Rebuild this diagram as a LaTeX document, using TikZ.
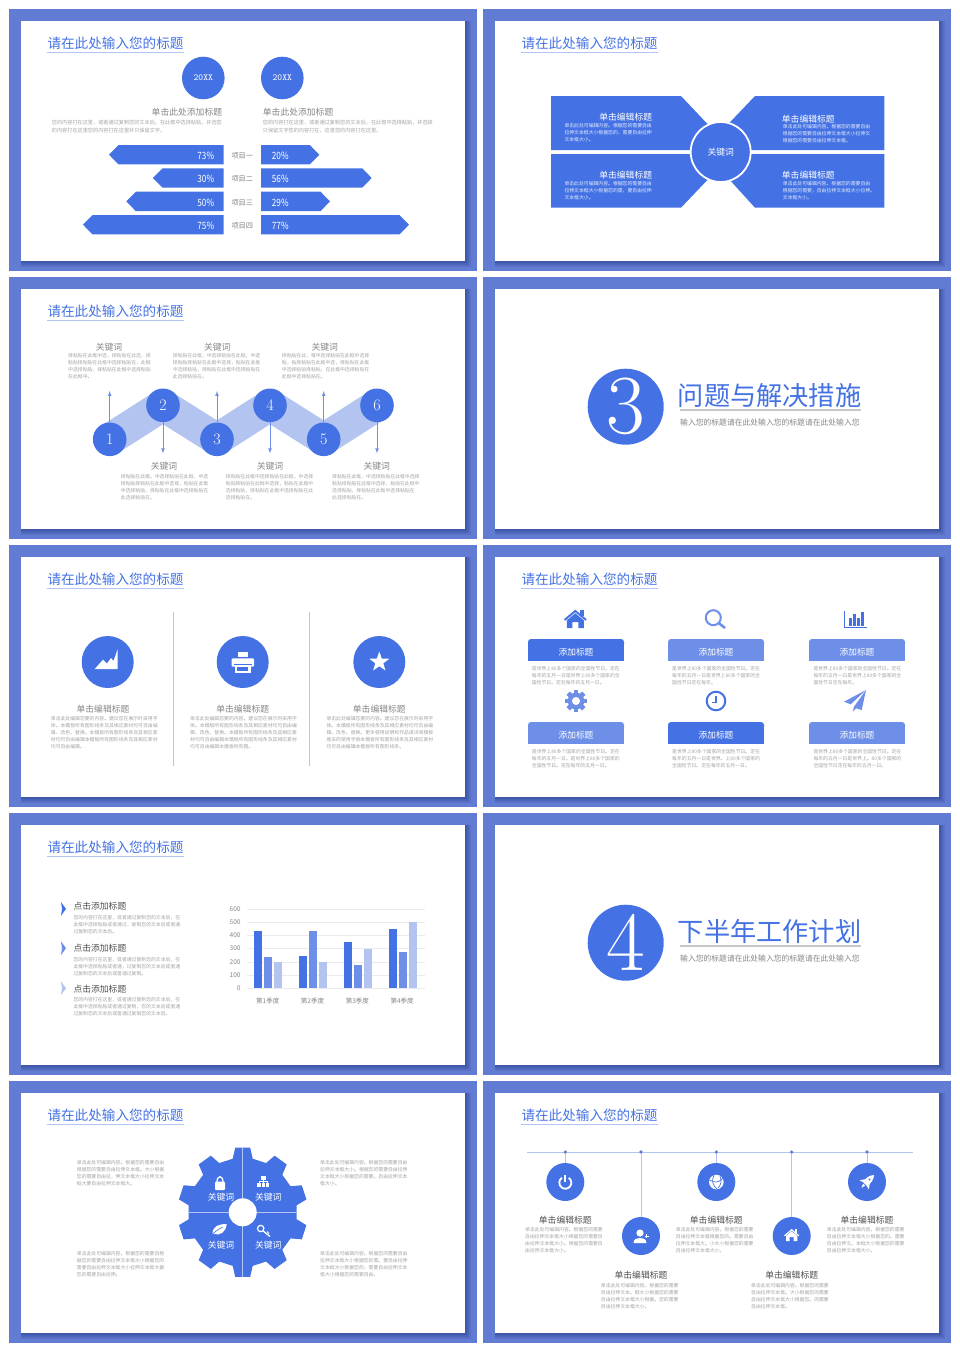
\documentclass[tikz,border=0pt]{standalone}
\usepackage{fontspec}
\usepackage{graphicx}
\usetikzlibrary{positioning}
\usetikzlibrary{arrows}
\usetikzlibrary{shapes.geometric}
\newfontfamily\cjk{Noto Sans CJK SC}

\definecolor{mainblue}{RGB}{68,114,228}
\definecolor{midblue}{RGB}{109,143,232}
\definecolor{lightblue}{RGB}{179,196,241}
\definecolor{frameblue}{RGB}{98,124,212}
\definecolor{shadeblue}{RGB}{50,70,150}
\definecolor{txtgray}{RGB}{165,165,165}
\definecolor{headgray}{RGB}{135,135,135}
\definecolor{darkgray}{RGB}{80,80,80}

\tikzset{
  slidetitle/.style={font=\cjk\fontsize{13.6}{14}\selectfont, text=mainblue, inner sep=0pt, anchor=west, minimum height=18pt},
  titlerule/.style={lightblue, line width=0.8pt},
  bodytxt/.style={font=\cjk\fontsize{4.85}{7}\selectfont, text=txtgray, inner sep=0pt, align=left, anchor=north west, yshift=2.4pt},
  whitetxt/.style={bodytxt, text=white!85!mainblue},
  headtxt/.style={font=\cjk\fontsize{8.8}{10}\selectfont, text=headgray, inner sep=0pt},
  whitehead/.style={headtxt, text=white},
  disc/.style={circle, fill=mainblue, inner sep=0pt, text=white},
  stemarrow/.style={-latex, midblue, line width=0.7pt},
  tabtxt/.style={font=\cjk\fontsize{8.7}{10}\selectfont, text=white, inner sep=0pt},
  pcttxt/.style={font=\cjk\fontsize{10}{11}\selectfont, text=white, inner sep=0pt},
  sectitle/.style={font=\cjk\fontsize{26.2}{28}\selectfont, text=mainblue, inner sep=0pt},
  secsub/.style={font=\cjk\fontsize{7.8}{9}\selectfont, text=headgray, inner sep=0pt},
  secrule/.style={black!22, line width=1.2pt},
  axistxt/.style={font=\cjk\fontsize{6.5}{8}\selectfont, text=headgray, inner sep=0pt},
}

% frame of one slide
\newcommand{\slideframe}[2]{
  \begin{scope}[shift={(#1,#2)}]
    \fill[frameblue] (0,0) rectangle (468,262);
    \foreach \s/\o in {6/.2,4/.3,2/.4} {
      \fill[shadeblue, opacity=\o] (12,11.5) rectangle (456+\s,252+\s);
    }
    \fill[white] (12,11.5) rectangle (456,252);
  \end{scope}
}

% title of one slide
\newcommand{\slidehead}[3]{
  \node[slidetitle] (title#1) at (#2+38.3,#3+34) {请在此处输入您的标题};
  \draw[titlerule] (title#1.south west) -- (title#1.south east);
}

% little house, centred on #1,#2, scaled by #3
\newcommand{\homeicon}[4]{
  \begin{scope}[shift={(#1,#2)}, scale=#3]
    \fill[#4] (5,-10) rectangle (8.5,-4);
    \draw[#4, line width=#3*1.9pt] (-10.8,0.5) -- (0,-8.5) -- (10.8,0.5);
    \fill[#4] (0,-6.2) -- (8.5,0.8) -- (8.5,8.5) -- (3,8.5) -- (3,2.5) -- (-3,2.5) -- (-3,8.5) -- (-8.5,8.5) -- (-8.5,0.8) -- cycle;
  \end{scope}
}

\begin{document}
\begin{tikzpicture}[x=1pt, y=-1pt]
  \useasboundingbox (0,0) rectangle (960,1352);
  \fill[white] (0,0) rectangle (960,1352);

  % Frames
  \foreach \xo/\yo in {9/9, 483/9, 9/277, 483/277, 9/545, 483/545, 9/813, 483/813, 9/1081, 483/1081} {
    \slideframe{\xo}{\yo}
  }
  \foreach \nm/\xo/\yo in {a/9/9, b/483/9, c/9/277, e/9/545, f/483/545, g/9/813, i/9/1081, j/483/1081} {
    \slidehead{\nm}{\xo}{\yo}
  }

  % Slide a: two years and mirrored bars
  \node[disc, minimum size=42.6pt, font=\ttfamily\fontsize{9.2}{10}\selectfont] (yeara) at (203.3,78) {20XX};
  \node[disc, minimum size=42.6pt, font=\ttfamily\fontsize{9.2}{10}\selectfont] (yearb) at (282.3,78) {20XX};
  \node[headtxt, anchor=east] (ahead1) at (222.3,111.7) {单击此处添加标题};
  \node[headtxt, anchor=west] (ahead2) at (262.7,111.7) {单击此处添加标题};
  \node[bodytxt, font=\cjk\fontsize{5.15}{8.7}\selectfont] (abody1) at (51.7,122) {您的内容打在这里，或者通过复制您的文本后，在此框中选择粘贴，并选您\\的内容打在这里您的内容打在这里并只保留文字。};
  \node[bodytxt, font=\cjk\fontsize{5.15}{8.7}\selectfont] (abody2) at (262.7,122) {您的内容打在这里，或者通过复制您的文本后，在此框中选择粘贴，并选择\\只保留文字您的内容打在，这里您的内容打在这里。};
  \foreach \yy/\tipl/\tipr/\pctl/\pctr/\lab [count=\i] in {145/109/319.3/73/20/项目一, 168.3/153/371.7/30/56/项目二, 191.7/126.3/330/50/29/项目三, 215/83/409/75/77/项目四} {
    \fill[mainblue] (223.7,\yy) -- (\tipl+9.5,\yy) -- (\tipl,\yy+9.7) -- (\tipl+9.5,\yy+19.4) -- (223.7,\yy+19.4) -- cycle;
    \fill[mainblue] (261,\yy) -- (\tipr-9.5,\yy) -- (\tipr,\yy+9.7) -- (\tipr-9.5,\yy+19.4) -- (261,\yy+19.4) -- cycle;
    \node[pcttxt, anchor=east] (pctl\i) at (214.3,\yy+11) {\scalebox{.82}[1]{\pctl\%}};
    \node[pcttxt, anchor=west] (pctr\i) at (271.7,\yy+11) {\scalebox{.82}[1]{\pctr\%}};
    \node[font=\cjk\fontsize{7.2}{9}\selectfont, text=headgray, inner sep=0pt] (item\i) at (242.3,\yy+11) {\lab};
  }

  % Slide b: four blocks round one keyword
  \fill[mainblue] (551,96) -- (681,96) -- (720.7,138) -- (720.7,150) -- (551,150) -- cycle;
  \fill[mainblue] (884.3,96) -- (755,96) -- (720.7,132) -- (720.7,150) -- (884.3,150) -- cycle;
  \fill[mainblue] (551,207.7) -- (681,207.7) -- (720.7,166) -- (720.7,154) -- (551,154) -- cycle;
  \fill[mainblue] (884.3,207.7) -- (755,207.7) -- (720.7,170) -- (720.7,154) -- (884.3,154) -- cycle;
  \node[disc, draw=white, line width=1.8pt, minimum size=60pt, font=\cjk\fontsize{8.8}{10}\selectfont] (hub) at (720.7,152) {关键词};
  \node[whitehead, anchor=east] (bhead1) at (652.3,117.3) {单击编辑标题};
  \node[whitetxt] (bbody1) at (564.3,125.7) {单击此处可编辑内容。根据您的需要自由\\拉伸文本框大小根据您的，需要自由拉伸\\文本框大小。};
  \node[whitehead, anchor=west] (bhead2) at (781.7,118.7) {单击编辑标题};
  \node[whitetxt] (bbody2) at (782.7,127) {单击此处可编辑内容。根据您的需要自由\\根据您的需要自由拉伸文本框大小拉伸文\\根据您的需要自由拉伸文本框。};
  \node[whitehead, anchor=east] (bhead3) at (652.3,175) {单击编辑标题};
  \node[whitetxt] (bbody3) at (564.3,183.3) {单击此处可编辑内容。根据您的需要自由\\拉伸文本框大小根据您的需，要自由拉伸\\文本框大小。};
  \node[whitehead, anchor=west] (bhead4) at (781.7,175) {单击编辑标题};
  \node[whitetxt] (bbody4) at (782.7,183.3) {单击此处可编辑内容。根据您的需要自由\\根据您的需要，自由拉伸文本框大小拉伸。\\文本框大小。};

  % Slide c: zigzag of six steps
  \coordinate (c1) at (109.7,439.3);
  \coordinate (c2) at (163,405.3);
  \coordinate (c3) at (217,439.3);
  \coordinate (c4) at (270,405.3);
  \coordinate (c5) at (323.7,439.3);
  \coordinate (c6) at (377,405.3);
  \draw[lightblue, line width=32pt, line join=round] (c1) -- (c2) -- (c3) -- (c4) -- (c5) -- (c6);
  \foreach \n in {1,...,6} {
    \node[disc, minimum size=33.6pt, font=\fontsize{16}{18}\selectfont] (st\n) at (c\n) {\n};
  }
  \coordinate (up1) at (109.7,391);
  \coordinate (up3) at (217,391);
  \coordinate (up5) at (323.7,391);
  \coordinate (dn2) at (163,453.3);
  \coordinate (dn4) at (270,453.3);
  \coordinate (dn6) at (377,453.3);
  \draw[stemarrow] (st1) -- (up1);
  \draw[stemarrow] (st3) -- (up3);
  \draw[stemarrow] (st5) -- (up5);
  \draw[stemarrow] (st2) -- (dn2);
  \draw[stemarrow] (st4) -- (dn4);
  \draw[stemarrow] (st6) -- (dn6);
  \node[headtxt] (chead1) at (109,347) {关键词};
  \node[headtxt] (chead2) at (217.3,347) {关键词};
  \node[headtxt] (chead3) at (324.7,347) {关键词};
  \node[headtxt] (chead4) at (164,466.3) {关键词};
  \node[headtxt] (chead5) at (270,466.3) {关键词};
  \node[headtxt] (chead6) at (376.7,466.3) {关键词};
  \node[bodytxt] (cbody1) at (68,355.3) {择粘贴在此框中选，择粘贴在此选，择\\粘贴择粘贴在此框中选择粘贴在，此框\\中选择粘贴，择粘贴在此框中选择粘贴\\在此框中。};
  \node[bodytxt] (cbody2) at (172.7,355.3) {择粘贴在此框，中选择粘贴在此框，中选\\择粘贴择粘贴在此框中选择，粘贴在此框\\中选择粘贴，择粘贴在此框中选择粘贴在\\此选择粘贴在。};
  \node[bodytxt] (cbody3) at (281.7,355.3) {择粘贴在此，框中选择粘贴在此框中选择\\粘，贴择粘贴在此框中选，择粘贴在此框\\中选择粘贴择粘贴，在此框中选择粘贴在\\此框中选择粘贴在。};
  \node[bodytxt] (cbody4) at (120.7,477) {择粘贴在此框。中选择粘贴在此框，中选\\择粘贴择粘贴在此框中选择，粘贴在此框\\中选择粘贴，择粘贴在此框中选择粘贴在\\此选择粘贴在。};
  \node[bodytxt] (cbody5) at (225.7,477) {择粘贴在此框中选择粘贴在此框，中选择\\粘贴择粘贴在此框中选择，粘贴在此框中\\选择粘贴，择粘贴在此框中选择粘贴在此\\选择粘贴在。};
  \node[bodytxt] (cbody6) at (332,477) {择粘贴在此框，中选择粘贴在此框中选择\\粘贴择粘贴在此框中选择，粘贴在此框中\\选择粘贴，择粘贴在此框中选择粘贴在\\此选择粘贴在。};

  % Slides d and h: section pages
  \foreach \nm/\yy/\num/\txt in {d/0/3/问题与解决措施, h/536/4/下半年工作计划} {
    \node[disc, minimum size=76pt, font=\fontsize{84}{84}\selectfont] (sec\nm) at (625.7,406.7+\yy) {\num};
    \node[sectitle, anchor=west] (sect\nm) at (677.7,395.7+\yy) {\txt};
    \node[secsub, anchor=west] (secs\nm) at (680,422.7+\yy) {输入您的标题请在此处输入您的标题请在此处输入您};
    \coordinate (rulea\nm) at (680,410+\yy);
    \coordinate (ruleb\nm) at (861,410+\yy);
    \draw[secrule] (rulea\nm) -- (ruleb\nm);
  }

  % Slide e: three columns
  \coordinate (sep1a) at (173.3,611.7);
  \coordinate (sep1b) at (173.3,765.7);
  \coordinate (sep2a) at (309.3,611.7);
  \coordinate (sep2b) at (309.3,765.7);
  \draw[lightblue, line width=0.9pt] (sep1a) -- (sep1b);
  \draw[lightblue, line width=0.9pt] (sep2a) -- (sep2b);
  \node[disc, minimum size=52pt] (ecol1) at (107.7,662) {};
  \node[disc, minimum size=52pt] (ecol2) at (242.7,662) {};
  \node[disc, minimum size=52pt] (ecol3) at (379.3,662) {};
  \fill[white] (94.7,669) -- (103,659.7) -- (107,663.5) -- (111,658) -- (113.5,661) -- (117.7,649) -- (117.7,669) -- cycle;
  \fill[white] (238,652.3) rectangle (248.3,657);
  \fill[white, rounded corners=1pt] (231.7,658.3) rectangle (254,666.7);
  \fill[white] (235,665) rectangle (250.7,673.3);
  \fill[mainblue] (233.8,664) rectangle (251.9,665.3);
  \fill[mainblue] (237.3,666.7) rectangle (248.4,671);
  \node[star, star points=5, star point ratio=2.5, fill=white, inner sep=0pt, minimum size=21pt] (estar) at (379.3,662) {};
  \node[headtxt] (ehead1) at (103,708.7) {单击编辑标题};
  \node[headtxt] (ehead2) at (242.7,708.7) {单击编辑标题};
  \node[headtxt] (ehead3) at (379.3,708.7) {单击编辑标题};
  \node[bodytxt] (ebody1) at (50.7,718.3) {单击此处编辑您要的内容。建议您在展示时采用字\\体。本模板所有图形线条及其相应素材均可自由编\\辑、改色、替换。本模板所有图形线条及其相应素\\材均可自由编辑本模板所有图形线条及其相应素材\\均可自由编辑。};
  \node[bodytxt] (ebody2) at (190,718.3) {单击此处编辑您要的内容。建议您在展示时采用字\\体。本模板所有图形线条及其相应素材均可自由编\\辑、改色、替换。本模板所有图形线条及其相应素\\材均可自由编辑本模板所有图形线条及其相应素材\\均可自由编辑本模板所有图。};
  \node[bodytxt] (ebody3) at (326.3,718.3) {单击此处编辑您要的内容。建议您在展示时采用字\\体。本模板所有图形线条及其相应素材均可自由编\\辑、改色、替换。更多使用说明和作品请详阅模板\\尾末的使用手册本模板所有图形线条及其相应素材\\均可自由编辑本模板所有图形线条。};

  % Slide f: six tabs with icons
  \foreach \xx/\yy/\col/\n in {528/639/mainblue/1, 668/639/midblue/2, 809/639/midblue/3, 528/722/midblue/4, 668/722/mainblue/5, 809/722/midblue/6} {
    \fill[\col, rounded corners=3pt] (\xx,\yy+8) -- (\xx,\yy) -- (\xx+96,\yy) -- (\xx+96,\yy+8) -- cycle;
    \fill[\col] (\xx,\yy+5) rectangle (\xx+96,\yy+22.3);
    \node[tabtxt] (tab\n) at (\xx+48,\yy+13) {添加标题};
  }
  \node[bodytxt] (fbody1) at (531.7,668.7) {是世界上80多个国家的全国性节日。定在\\每年的五月一日是世界上80多个国家的全\\国性节日。定在每年的五月一日。};
  \node[bodytxt] (fbody2) at (672,668.7) {是世界上80多个国家的全国性节日。定在\\每年的五月一日是世界上80多个国家的全\\国性节日定在每年。};
  \node[bodytxt] (fbody3) at (813.3,668.7) {是世界上80多个国家的全国性节日。定在\\每年的五月一日是世界上80多个国家的全\\国性节日定在每年。};
  \node[bodytxt] (fbody4) at (531.7,751.7) {是世界上80多个国家的全国性节日。定在\\每年的五月一日。是世界上80多个国家的\\全国性节日。定在每年的五月一日。};
  \node[bodytxt] (fbody5) at (672,751.7) {是世界上80多个国家的全国性节日。定在\\每年的五月一日是世界。上80多个国家的\\全国性节日。定在每年的五月一日。};
  \node[bodytxt] (fbody6) at (813.3,751.7) {是世界上80多个国家的全国性节日。定在\\每年的五月一日是世界上。80多个国家的\\全国性节日定在每年的五月一日。};
  \homeicon{575.3}{619.5}{1}{mainblue}
  \draw[midblue, line width=2pt] (713.3,617.7) circle (7.5);
  \draw[midblue, line width=2.6pt] (719,623.2) -- (725,628);
  \draw[mainblue, line width=0.8pt] (844.7,611) -- (844.7,627.7) -- (867.3,627.7);
  \foreach \xx/\yy in {848.7/618.3, 852.9/614.3, 857/617.7, 861.3/612.3} {
    \fill[mainblue] (\xx,\yy) rectangle (\xx+2.8,625.7);
  }
  \fill[midblue] (576,701) circle (8.3);
  \foreach \a in {0,45,...,315} {
    \fill[midblue, rotate around={\a:(576,701)}] (573.6,690) rectangle (578.4,695);
  }
  \fill[white] (576,701) circle (4);
  \draw[mainblue, line width=2pt] (716,701) circle (9.3);
  \draw[mainblue, line width=1.2pt] (716,695.7) -- (716,702.3) -- (711.7,702.3);
  \fill[midblue] (866,690) -- (844,701.7) -- (850.7,704.3) -- cycle;
  \fill[midblue] (866,690) -- (854,706.7) -- (852.7,711.7) -- (856,708.3) -- (861.7,710) -- cycle;

  % Slide g: list and bar chart
  \foreach \yy/\col in {902/mainblue, 941.3/midblue, 981.3/lightblue} {
    \fill[\col] (61,\yy) -- (66,\yy+6.9) -- (61,\yy+13.8) -- (62,\yy+6.9) -- cycle;
  }
  \node[headtxt, text=darkgray, anchor=west] (ghead1) at (73.3,906.3) {点击添加标题};
  \node[headtxt, text=darkgray, anchor=west] (ghead2) at (73.3,948) {点击添加标题};
  \node[headtxt, text=darkgray, anchor=west] (ghead3) at (73.3,988.7) {点击添加标题};
  \node[bodytxt] (gbody1) at (73.3,918) {您的内容打在这里，或者通过复制您的文本后，在\\此框中选择粘贴或者通过，复制您的文本后或者通\\过复制您的文本后。};
  \node[bodytxt] (gbody2) at (73.3,959.7) {您的内容打在这里，或者通过复制您的文本后，在\\此框中选择粘贴或者通，过复制您的文本后或者通\\过复制您的文本后或者通过复制。};
  \node[bodytxt] (gbody3) at (73.3,1000) {您的内容打在这里，或者通过复制您的文本后，在\\此框中选择粘贴或者通过复制，您的文本后或者通\\过复制您的文本后或者通过复制您的文本后。};
  \foreach \v/\lab in {0/0, 1/100, 2/200, 3/300, 4/400, 5/500, 6/600} {
    \coordinate (grida\v) at (247,988.3-13.22*\v);
    \coordinate (gridb\v) at (425,988.3-13.22*\v);
    \draw[blue!20!black!8, line width=0.7pt] (grida\v) -- (gridb\v);
    \node[axistxt, anchor=east] (ax\v) at (240.7,988.3-13.22*\v) {\lab};
  }
  \foreach \g/\va/\vb/\vc/\lab in {0/433/237/199/第1季度, 1/245/435/200/第2季度, 2/348/180/300/第3季度, 3/448/275/500/第4季度} {
    \fill[mainblue] (254.3+44.8*\g,988.3) rectangle ++(8,-\va*0.1322);
    \fill[midblue] (264.3+44.8*\g,988.3) rectangle ++(8,-\vb*0.1322);
    \fill[lightblue] (274.3+44.8*\g,988.3) rectangle ++(8,-\vc*0.1322);
    \node[axistxt] (cat\g) at (267.7+44.8*\g,1001) {\lab};
  }

  % Slide i: cog with four keywords
  \begin{scope}[shift={(242.7,1212.3)}]
    \fill[mainblue] (7.4:54.5) \foreach \a in {18,54,...,342} {
      -- (\a-10.6:54.5) -- (\a-6.6:65) -- (\a+6.6:65) -- (\a+10.6:54.5)
    } -- cycle;
    \draw[lightblue, line width=0.9pt] (0,-65) -- (0,65);
    \draw[lightblue, line width=0.9pt] (-54,0) -- (54,0);
    \fill[white] (0,0) circle (14);
  \end{scope}
  \node[whitehead] (ikey1) at (221,1196.7) {关键词};
  \node[whitehead] (ikey2) at (268.3,1197.3) {关键词};
  \node[whitehead] (ikey3) at (221,1245.3) {关键词};
  \node[whitehead] (ikey4) at (268.3,1245.3) {关键词};
  \fill[white, rounded corners=0.8pt] (215,1181.7) rectangle (225,1190);
  \draw[white, line width=1.3pt] (217,1182) .. controls (217,1175) and (223,1175) .. (223,1182);
  \fill[white] (261.3,1176) rectangle (265.5,1179.5);
  \draw[white, line width=0.7pt] (263.3,1179.5) -- (263.3,1183.3);
  \draw[white, line width=0.7pt] (259,1183.3) -- (259,1181.5) -- (267.7,1181.5) -- (267.7,1183.3);
  \fill[white] (257.3,1183.3) rectangle (260.7,1187);
  \fill[white] (261.7,1183.3) rectangle (265,1187);
  \fill[white] (266,1183.3) rectangle (269.4,1187);
  \fill[white] (212.5,1234) .. controls (212.5,1226) and (219,1224) .. (226.7,1224) .. controls (226,1232) and (220,1236) .. (214,1234) -- cycle;
  \draw[mainblue, line width=0.6pt] (211,1236) .. controls (215,1231) and (219,1229) .. (223,1227);
  \draw[white, line width=1.2pt] (260.7,1228.5) circle (3.2);
  \draw[white, line width=1.3pt] (263.2,1231) -- (270,1236.5);
  \draw[white, line width=1pt] (267,1231.5) -- (269,1233.5);
  \node[bodytxt] (ibody1) at (76.7,1162.7) {单击此处可编辑内容。根据您的需要自由\\根据您的需要自由拉伸文本框。大小根据\\您的需要自由拉，伸文本框大小拉伸文本\\框大要自由拉伸文本框大。};
  \node[bodytxt] (ibody2) at (320,1162.7) {单击此处可编辑内容。根据您的需要自由\\拉伸文本框大小。根据您的需要自由拉伸\\文本框大小根据您的需要。自由拉伸文本\\框大小。};
  \node[bodytxt] (ibody3) at (76.7,1253.3) {单击此处可编辑内容。根据您的需要自根\\据您的需要自由拉伸文本框大小根据您的\\需要自由拉伸文本框大小拉伸文本框大据\\您的需要自由拉伸。};
  \node[bodytxt] (ibody4) at (320,1253.3) {单击此处可编辑内容。根据您的需要自由\\拉伸文本框大小根据您的需。要自由拉伸\\文本框大小根据您的，需要自由拉伸文本\\框大小根据您的需要自由。};

  % Slide j: timeline with hanging discs
  \coordinate (linea) at (527,1152);
  \coordinate (lineb) at (913.3,1152);
  \draw[lightblue, line width=0.9pt] (linea) -- (lineb);
  \foreach \xx/\yy/\n in {565.3/1182/1, 641/1236/2, 716.3/1182/3, 791.7/1236/4, 867/1182/5} {
    \node[circle, fill=frameblue, inner sep=0pt, minimum size=3.6pt] (dot\n) at (\xx,1152) {};
    \node[disc, minimum size=38pt] (hang\n) at (\xx,\yy) {};
    \draw[lightblue, line width=0.9pt] (dot\n) -- (hang\n);
  }
  \draw[white, line width=1.8pt] (568.74,1177.79) arc (-55:235:6);
  \draw[white, line width=1.8pt] (565.3,1174.8) -- (565.3,1182);
  \fill[white] (640,1233) circle (3.6);
  \fill[white] (633.5,1243) .. controls (634,1238.5) and (637,1238) .. (640,1238) .. controls (643,1238) and (646,1238.5) .. (646.5,1243) -- cycle;
  \draw[white, line width=1.1pt] (644.7,1236.3) -- (648.7,1236.3);
  \draw[white, line width=1.1pt] (646.7,1234.3) -- (646.7,1238.3);
  \fill[white] (716.3,1182) circle (7.3);
  \draw[mainblue, line width=0.7pt] (709.5,1180) .. controls (714,1183) and (719,1183) .. (723,1178);
  \draw[mainblue, line width=0.7pt] (714,1175) .. controls (711,1180) and (713,1186) .. (717,1189);
  \draw[mainblue, line width=0.7pt] (720,1176) .. controls (722,1181) and (721,1185) .. (718,1188);
  \homeicon{791.7}{1235.5}{0.67}{white}
  \begin{scope}[shift={(867,1182)}, rotate=-45]
    \fill[white] (0,-10) .. controls (3.5,-6) and (3.5,-2) .. (3,3) -- (-3,3) .. controls (-3.5,-2) and (-3.5,-6) .. (0,-10) -- cycle;
    \fill[white] (-3,-1) -- (-6.5,4) -- (-3,3) -- cycle;
    \fill[white] (3,-1) -- (6.5,4) -- (3,3) -- cycle;
    \fill[white] (-1.5,4) -- (0,8) -- (1.5,4) -- cycle;
    \fill[mainblue] (0,-3.5) circle (1.2);
  \end{scope}
  \foreach \xx/\n in {565.3/1, 716.3/3, 867/5} {
    \node[headtxt, text=darkgray] (jhead\n) at (\xx,1220.3) {单击编辑标题};
  }
  \foreach \xx/\n in {641/2, 791.7/4} {
    \node[headtxt, text=darkgray] (jhead\n) at (\xx,1275.3) {单击编辑标题};
  }
  \node[bodytxt] (jbody1) at (525,1230) {单击此处可编辑内容。根据您的需要\\自由拉伸文本框大小根据您的需要自\\由拉伸文本框大小。根据您的需要自\\由拉伸文本框大小。};
  \node[bodytxt] (jbody3) at (675.7,1230) {单击此处可编辑内容。根据您的需要\\自由拉伸文本框根据您的。需要自由\\拉伸文本框大。小大小根据您的需要\\自由拉伸文本框大小。};
  \node[bodytxt] (jbody5) at (826.7,1230) {单击此处可编辑内容。根据您的需要\\自由拉伸文本框大小根据您的。需要\\自由拉伸文。本框大小根据您的需要\\自由拉伸文本框大小。};
  \node[bodytxt] (jbody2) at (600.7,1285.3) {单击此处可编辑内容。根据您的需要\\自由拉伸文本。框大小根据您的需要\\自由拉伸文本框大小根据。您的需要\\自由拉伸文本框大小。};
  \node[bodytxt] (jbody4) at (751,1285.3) {单击此处可编辑内容。根据您的需要\\自由拉伸文本框。大小根据您的需要\\自由拉伸文本框大小根据您。的需要\\自由拉伸文本框。};

\end{tikzpicture}
\end{document}
